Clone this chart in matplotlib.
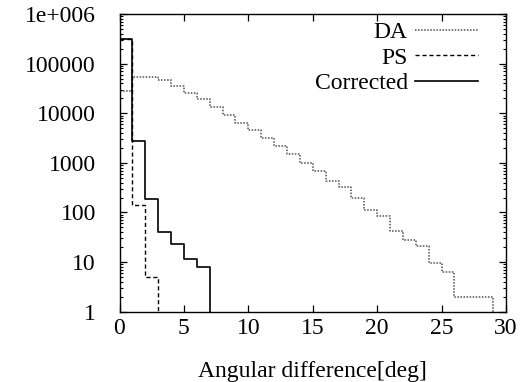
import numpy as np
import matplotlib
matplotlib.use("Agg")
import matplotlib.pyplot as plt
from matplotlib.ticker import LogLocator, NullFormatter, FixedLocator

# ---- data (counts per 1-degree bin, starting at 0 deg) ----
da_counts = [28600, 53200, 53200, 46300, 35500, 26000, 19100, 13600, 9380, 6460,
             4610, 3130, 2220, 1530, 1010, 687, 426, 319, 194, 114,
             84, 42, 28, 21, 9.5, 6.4, 2, 2, 2]
ps_counts = [310000, 144, 5]
corrected_counts = [310000, 2800, 187, 41, 23, 11.5, 8]
bin_width = 1

xticks = [0, 5, 10, 15, 20, 25, 30]
yticks = [1, 10, 100, 1000, 10000, 100000, 1000000]
ytick_labels = ["1", "10", "100", "1000", "10000", "100000", "1e+006"]
xlabel = "Angular difference[deg]"

plt.rcParams['font.family'] = ['Liberation Serif', 'DejaVu Serif']
FS = 17

fig = plt.figure(figsize=(5.21, 3.82), dpi=100)
ax = fig.add_axes([119.5/521, 1-311.7/382, (506-119.5)/521, (311.7-14)/382])


def step_xy(counts):
    v = np.asarray(counts, dtype=float)
    edges = np.arange(len(v) + 1) * bin_width
    xs = np.repeat(edges, 2)[1:-1]
    ys = np.repeat(v, 2)
    xs = np.append(xs, edges[-1])
    ys = np.append(ys, 1e-3)
    return xs, ys

x, y = step_xy(da_counts)
ax.plot(x, y, color='#505050', lw=1.1, linestyle=(0, (1, 1)), label='DA')
x, y = step_xy(ps_counts)
ax.plot(x, y, color='black', lw=1.0, linestyle=(0, (3, 2)), label='PS')
x, y = step_xy(corrected_counts)
ax.plot(x, y, color='black', lw=1.2, linestyle='-', label='Corrected')

ax.set_yscale('log')
ax.set_xlim(0, 30)
ax.set_ylim(1, 1e6)
ax.xaxis.set_major_locator(FixedLocator(xticks))
ax.set_xticklabels([str(t) for t in xticks])
ax.yaxis.set_major_locator(FixedLocator(yticks))
ax.set_yticklabels(ytick_labels)
ax.yaxis.set_minor_locator(LogLocator(base=10, subs=np.arange(2, 10), numticks=20))
ax.yaxis.set_minor_formatter(NullFormatter())

ax.tick_params(axis='both', which='major', direction='in', length=4.8, width=0.9,
               top=True, right=True, labelsize=FS)
ax.tick_params(axis='y', which='minor', direction='in', length=2.2, width=0.8,
               left=True, right=True)
ax.tick_params(axis='x', which='major', pad=4.5)
ax.tick_params(axis='y', which='major', pad=17)
for s in ax.spines.values():
    s.set_linewidth(1.0)

ax.set_xlabel(xlabel, fontsize=FS, labelpad=16)

ax.legend(loc='upper right', bbox_to_anchor=(0.9275, 0.975), frameon=False,
          markerfirst=False, fontsize=FS, handlelength=2.67, handletextpad=0.3,
          labelspacing=0.17, borderpad=0, borderaxespad=0)

fig.savefig('out.png', dpi=100)
